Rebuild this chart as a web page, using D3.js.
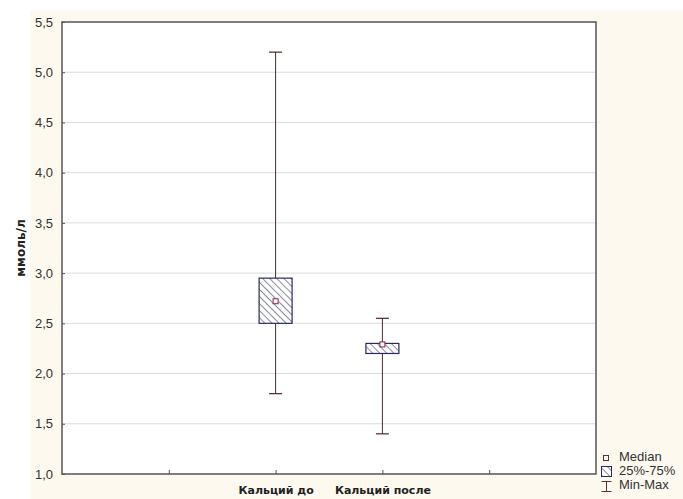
<!DOCTYPE html>
<html>
<head>
<meta charset="utf-8">
<script src="https://cdn.jsdelivr.net/npm/d3@7"></script>
<style>
  body { margin: 0; background: #fff; }
</style>
</head>
<body>
<div id="chart"></div>
<script>
// data
var categories = ["Кальций до", "Кальций после"];
var minVals = [1.80, 1.40];
var q1Vals = [2.50, 2.20];
var medianVals = [2.72, 2.29];
var q3Vals = [2.95, 2.30];
var maxVals = [5.20, 2.55];
var yTicks = [1.0, 1.5, 2.0, 2.5, 3.0, 3.5, 4.0, 4.5, 5.0, 5.5];
var legendLabels = ["Median", "25%-75%", "Min-Max"];

var W = 683, H = 499;
var margin = {top: 22, right: 87, bottom: 25, left: 62},
    width = W - margin.left - margin.right,
    height = H - margin.top - margin.bottom;

var sans = "'Liberation Sans', Arial, sans-serif";
var wide = "'DejaVu Sans', Verdana, sans-serif";

var svg = d3.select("#chart")
  .append("svg")
    .attr("width", W)
    .attr("height", H);

// cream panel
svg.append("rect")
  .attr("x", 30).attr("y", 10)
  .attr("width", W - 30).attr("height", H - 10)
  .attr("fill", "#fdf9ee");

var defs = svg.append("defs");
var pat = defs.append("pattern")
  .attr("id", "hatch")
  .attr("patternUnits", "userSpaceOnUse")
  .attr("width", 5).attr("height", 5)
  .attr("patternTransform", "rotate(-45)");
pat.append("rect").attr("width", 5).attr("height", 5).attr("fill", "#fff");
pat.append("line")
  .attr("x1", 0).attr("y1", 0).attr("x2", 0).attr("y2", 5)
  .attr("stroke", "#2a2a5e").attr("stroke-width", 1.1);

var g = svg.append("g")
  .attr("transform", "translate(" + margin.left + "," + margin.top + ")");

g.append("rect")
  .attr("width", width).attr("height", height)
  .attr("fill", "#fff");

// scales
var x = d3.scaleLinear().domain([0, 5]).range([0, width]);
var y = d3.scaleLinear().domain([1, 5.5]).range([height, 0]);

// grid
g.append("g")
  .selectAll("line")
  .data(yTicks.slice(1, -1))
  .enter()
  .append("line")
    .attr("x1", 0).attr("x2", width)
    .attr("y1", function(d) { return y(d); })
    .attr("y2", function(d) { return y(d); })
    .attr("stroke", "#dcdcdc");

// y axis
var fmt = function(d) { return d3.format(".1f")(d).replace(".", ","); };
var yAxis = g.append("g")
  .call(d3.axisLeft(y).tickValues(yTicks).tickFormat(fmt).tickSize(-3).tickPadding(9));
yAxis.select(".domain").remove();
yAxis.selectAll("line").attr("stroke", "#555");
yAxis.selectAll("text")
  .style("font-family", sans).style("font-size", "13px").attr("fill", "#333");

// x axis
var xAxis = g.append("g")
  .attr("transform", "translate(0," + height + ")")
  .call(d3.axisBottom(x).tickValues([1, 2, 3, 4]).tickSize(-4)
    .tickFormat(function(d) { return (d === 2 || d === 3) ? categories[d - 2] : ""; })
    .tickPadding(12));
xAxis.select(".domain").remove();
xAxis.selectAll("line").attr("stroke", "#555");
xAxis.selectAll("text")
  .style("font-family", wide).style("font-size", "11px").style("font-weight", "bold")
  .attr("fill", "#222");

// frame
g.append("rect")
  .attr("width", width).attr("height", height)
  .attr("fill", "none").attr("stroke", "#555").attr("stroke-width", 1.5);

// y label
svg.append("text")
  .attr("transform", "translate(25," + (margin.top + height / 2) + ") rotate(-90)")
  .attr("text-anchor", "middle")
  .style("font-family", wide).style("font-size", "12px").style("font-weight", "bold")
  .attr("fill", "#222")
  .text("ммоль/л");

// boxes
var boxW = 33, capW = 13;
var data = categories.map(function(c, i) {
  return {pos: i + 2, min: minVals[i], q1: q1Vals[i], med: medianVals[i], q3: q3Vals[i], max: maxVals[i]};
});

var boxes = g.selectAll(".box").data(data).enter().append("g");

boxes.append("line")
  .attr("x1", function(d) { return x(d.pos); })
  .attr("x2", function(d) { return x(d.pos); })
  .attr("y1", function(d) { return y(d.min); })
  .attr("y2", function(d) { return y(d.max); })
  .attr("stroke", "#4a2a2a").attr("stroke-width", 1);
boxes.selectAll(".cap")
  .data(function(d) { return [d.min, d.max].map(function(v) { return {pos: d.pos, v: v}; }); })
  .enter().append("line")
  .attr("x1", function(d) { return x(d.pos) - capW / 2; })
  .attr("x2", function(d) { return x(d.pos) + capW / 2; })
  .attr("y1", function(d) { return y(d.v); })
  .attr("y2", function(d) { return y(d.v); })
  .attr("stroke", "#4a2a2a").attr("stroke-width", 1.2);
boxes.append("rect")
  .attr("x", function(d) { return x(d.pos) - boxW / 2; })
  .attr("y", function(d) { return y(d.q3); })
  .attr("width", boxW)
  .attr("height", function(d) { return y(d.q1) - y(d.q3); })
  .attr("fill", "url(#hatch)")
  .attr("stroke", "#2a2a5e").attr("stroke-width", 1.2);
boxes.append("rect")
  .attr("x", function(d) { return x(d.pos) - 2.5; })
  .attr("y", function(d) { return y(d.med) - 2.5; })
  .attr("width", 5).attr("height", 5)
  .attr("fill", "#fff")
  .attr("stroke", "#8b2040").attr("stroke-width", 1);

// legend
var lg = svg.append("g").attr("transform", "translate(601,461)");
lg.append("rect").attr("x", 2.5).attr("y", -5.5).attr("width", 5).attr("height", 5)
  .attr("fill", "#fff").attr("stroke", "#5a3535");
lg.append("rect").attr("x", 0.5).attr("y", 5.5).attr("width", 10).attr("height", 10)
  .attr("fill", "url(#hatch)").attr("stroke", "#2a2a5e");
lg.append("line").attr("x1", 5.5).attr("x2", 5.5).attr("y1", 20).attr("y2", 31).attr("stroke", "#5a3535");
lg.append("line").attr("x1", 0.5).attr("x2", 10.5).attr("y1", 20.5).attr("y2", 20.5).attr("stroke", "#5a3535");
lg.append("line").attr("x1", 0.5).attr("x2", 10.5).attr("y1", 30.5).attr("y2", 30.5).attr("stroke", "#5a3535");
lg.selectAll(".lt").data(legendLabels).enter().append("text")
  .attr("x", 18)
  .attr("y", function(d, i) { return i * 14; })
  .style("font-family", sans).style("font-size", "13px").attr("fill", "#333")
  .text(function(d) { return d; });
</script>
</body>
</html>
